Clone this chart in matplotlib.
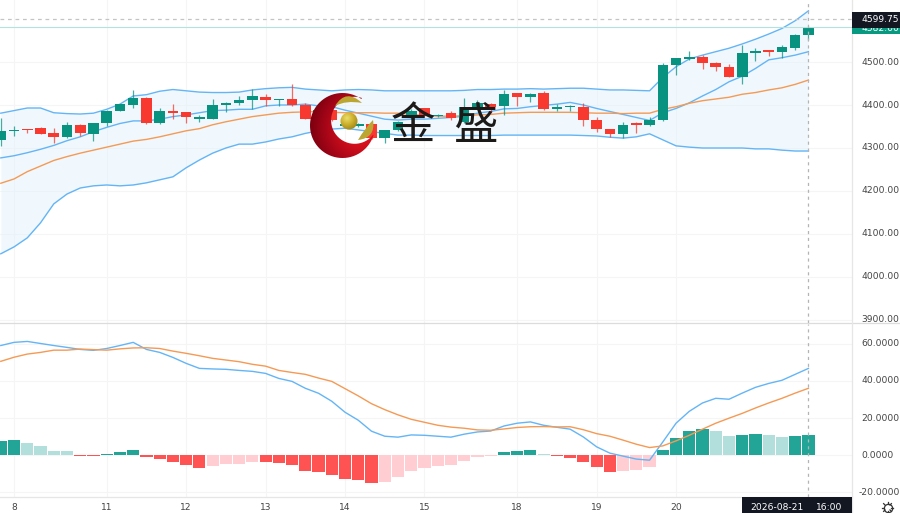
#!/usr/bin/env python3
import numpy as np
import matplotlib
matplotlib.use('Agg')
import matplotlib.pyplot as plt
from matplotlib.colors import LinearSegmentedColormap
from matplotlib.patches import Circle, PathPatch, Rectangle
from matplotlib.path import Path

plt.rcParams['font.family'] = ['DejaVu Sans']

opens = [4319, 4340, 4344, 4347, 4334, 4326, 4354, 4333, 4359, 4387, 4400, 4416, 4357, 4387, 4383, 4368,
         4368, 4401, 4405, 4411, 4419, 4412, 4414, 4400, 4368, 4388, 4352, 4351, 4356, 4323, 4342, 4369,
         4392, 4374, 4381, 4361, 4396, 4402, 4398, 4427, 4419, 4427, 4390, 4395, 4395, 4365, 4344, 4332,
         4357, 4353, 4364, 4493, 4508, 4511, 4498, 4489, 4464, 4520, 4527, 4524, 4533, 4563]
highs = [4369, 4351, 4345, 4348, 4346, 4361, 4356, 4358, 4388, 4402, 4435, 4418, 4392, 4402, 4383, 4377,
         4414, 4408, 4421, 4438, 4426, 4413, 4449, 4405, 4390, 4390, 4357, 4358, 4358, 4342, 4363, 4390,
         4394, 4378, 4387, 4416, 4412, 4404, 4435, 4429, 4427, 4433, 4402, 4400, 4404, 4371, 4345, 4360,
         4360, 4373, 4497, 4509, 4526, 4516, 4500, 4495, 4540, 4532, 4529, 4540, 4565, 4584]
lows = [4305, 4328, 4334, 4332, 4312, 4324, 4329, 4316, 4351, 4385, 4394, 4356, 4355, 4367, 4359, 4361,
        4367, 4384, 4400, 4390, 4398, 4398, 4398, 4367, 4366, 4362, 4350, 4349, 4321, 4311, 4340, 4367,
        4372, 4372, 4364, 4359, 4394, 4381, 4377, 4398, 4408, 4389, 4385, 4385, 4351, 4338, 4326, 4324,
        4334, 4350, 4362, 4470, 4505, 4484, 4478, 4464, 4449, 4502, 4515, 4509, 4529, 4551]
closes = [4340, 4343, 4341, 4333, 4326, 4354, 4335, 4358, 4387, 4402, 4416, 4357, 4387, 4381, 4371, 4371,
          4401, 4405, 4411, 4421, 4411, 4413, 4399, 4368, 4388, 4364, 4355, 4356, 4323, 4342, 4361, 4387,
          4374, 4377, 4369, 4396, 4404, 4395, 4426, 4419, 4425, 4390, 4395, 4397, 4364, 4345, 4333, 4354,
          4353, 4364, 4492, 4509, 4512, 4498, 4489, 4465, 4520, 4526, 4524, 4534, 4563, 4582]

band_upper = [4381, 4387, 4393, 4393, 4382, 4380, 4379, 4381, 4390, 4402, 4421, 4424, 4432, 4436, 4433, 4430,
              4429, 4429, 4430, 4435, 4438, 4440, 4441, 4437, 4435, 4433, 4435, 4436, 4435, 4433, 4433, 4433,
              4433, 4433, 4433, 4434, 4436, 4436, 4437, 4437, 4438, 4437, 4438, 4439, 4439, 4437, 4435, 4435,
              4434, 4433, 4464, 4489, 4507, 4516, 4524, 4532, 4542, 4553, 4565, 4578, 4596, 4619]
band_inner = [4277, 4282, 4289, 4297, 4306, 4317, 4326, 4338, 4348, 4357, 4363, 4363, 4367, 4373, 4377, 4382,
              4387, 4388, 4390, 4390, 4398, 4400, 4400, 4402, 4398, 4396, 4388, 4381, 4374, 4367, 4365, 4367,
              4367, 4369, 4371, 4374, 4381, 4385, 4391, 4392, 4396, 4399, 4402, 4406, 4400, 4392, 4385, 4378,
              4371, 4364, 4382, 4392, 4405, 4421, 4436, 4454, 4467, 4485, 4505, 4510, 4516, 4524]
band_mid = [4218, 4228, 4245, 4258, 4271, 4280, 4288, 4295, 4302, 4309, 4316, 4320, 4326, 4333, 4340, 4345,
            4354, 4361, 4367, 4373, 4377, 4381, 4383, 4384, 4385, 4383, 4382, 4382, 4382, 4381, 4381, 4378,
            4376, 4374, 4374, 4375, 4377, 4378, 4381, 4382, 4383, 4383, 4383, 4383, 4382, 4381, 4381, 4380,
            4381, 4381, 4390, 4396, 4404, 4410, 4414, 4418, 4425, 4429, 4435, 4440, 4448, 4458]
band_lower = [4054, 4070, 4091, 4126, 4170, 4193, 4207, 4212, 4214, 4212, 4214, 4219, 4226, 4233, 4254, 4272,
              4288, 4300, 4309, 4309, 4314, 4321, 4326, 4334, 4340, 4344, 4346, 4342, 4338, 4334, 4330, 4330,
              4329, 4329, 4329, 4329, 4329, 4329, 4330, 4330, 4330, 4330, 4330, 4330, 4329, 4328, 4325, 4323,
              4326, 4333, 4319, 4305, 4302, 4300, 4300, 4300, 4300, 4298, 4298, 4295, 4293, 4293]

dif = [59.0, 60.7, 61.2, 60.1, 59.0, 58.0, 56.9, 56.4, 57.4, 59.0, 60.7, 56.9, 55.3, 52.6, 49.4, 46.7,
       46.4, 46.2, 45.6, 45.1, 44.0, 41.3, 39.7, 36.0, 33.3, 29.0, 23.1, 18.8, 12.9, 10.2, 9.7, 10.9,
       10.7, 10.2, 9.7, 11.3, 12.5, 13.0, 15.7, 17.2, 17.9, 16.1, 15.0, 14.0, 9.8, 4.5, 1.1, -0.5,
       -2.1, -2.7, 7.1, 17.2, 23.6, 28.1, 30.6, 30.1, 33.4, 36.5, 38.6, 40.3, 43.5, 46.7]
dea = [50.5, 52.7, 54.4, 55.3, 56.5, 56.5, 57.1, 56.8, 56.5, 57.2, 57.7, 57.8, 57.4, 56.0, 54.8, 53.5,
       52.1, 51.2, 50.3, 48.9, 47.9, 45.6, 44.5, 43.5, 41.5, 39.7, 35.8, 31.9, 27.7, 24.5, 21.7, 19.3,
       17.7, 16.1, 15.1, 14.5, 13.6, 13.4, 14.1, 14.9, 15.3, 15.4, 15.2, 15.3, 13.7, 11.6, 10.2, 8.1,
       5.9, 4.1, 5.0, 7.7, 10.7, 14.0, 17.2, 19.9, 22.5, 25.4, 28.1, 30.6, 33.4, 36.0]
hist = [7.7, 8.0, 6.8, 4.8, 2.5, 2.1, -0.2, -0.4, 0.9, 1.8, 3.0, -0.9, -2.1, -3.4, -5.4, -6.8,
        -5.7, -5.0, -4.7, -3.8, -3.9, -4.3, -5.5, -8.4, -9.3, -10.7, -12.7, -13.1, -14.8, -14.3, -12.0, -8.4,
        -7.0, -5.9, -5.4, -3.2, -1.1, -0.4, 1.6, 2.3, 3.0, 0.7, -0.2, -1.3, -3.9, -6.6, -9.3, -8.6,
        -8.0, -6.6, 2.7, 9.5, 13.2, 14.1, 12.9, 10.2, 11.1, 11.4, 10.6, 9.7, 10.2, 11.1]

price_ticks = [3900, 4000, 4100, 4200, 4300, 4400, 4500]
macd_ticks = [-20, 0, 20, 40, 60]
date_ticks = [1, 8, 14, 20, 26, 32, 39, 45, 51]
date_labels = ['8', '11', '12', '13', '14', '15', '18', '19', '20']
cross_price = 4599.75
last_price = 4582.00

UP = '#089381'
DOWN = '#f7392f'
BLUE = '#64b5f6'
ORANGE = '#f59a55'
GRID = '#f5f5f5'
TICK = '#444444'
FS = 6.6

W, H = 900, 513
RIGHT = 852
XLIM = (-0.06, 64.29)
PRICE_LIM = (3893.0, 4644.2)
MACD_LIM = (-22.5, 70.85)

fig = plt.figure(figsize=(W / 100, H / 100), dpi=100, facecolor='white')
ax = fig.add_axes([0, 1 - 323 / H, RIGHT / W, 323 / H])
ax2 = fig.add_axes([0, (H - 497) / H, RIGHT / W, (497 - 323.5) / H])
over = fig.add_axes([0, 0, 1, 1], facecolor='none')

xs = np.arange(len(closes))
for a in (ax, ax2):
    a.set_xlim(*XLIM)
    a.axis('off')
    for t in date_ticks:
        a.axvline(t, color=GRID, lw=0.8, zorder=0)
    a.axvline(61, color='#b4b4b4', lw=0.9, ls=(0, (2.5, 3)), zorder=6)
ax.set_ylim(*PRICE_LIM)
ax2.set_ylim(*MACD_LIM)
for p in price_ticks:
    ax.axhline(p, color=GRID, lw=0.8, zorder=0)
for m in macd_ticks:
    ax2.axhline(m, color=GRID, lw=0.8, zorder=0)

# price pane
ax.fill_between(xs, band_lower, band_upper, color='#e3f2fd', alpha=0.5, lw=0, zorder=1)
ax.plot(xs, band_upper, color=BLUE, lw=1.0, zorder=2)
ax.plot(xs, band_inner, color=BLUE, lw=1.0, zorder=2)
ax.plot(xs, band_lower, color=BLUE, lw=1.0, zorder=2)
ax.plot(xs, band_mid, color=ORANGE, lw=1.0, zorder=2)
for i in xs:
    c = UP if closes[i] >= opens[i] else DOWN
    ax.vlines(i, lows[i], highs[i], color=c, lw=0.9, alpha=0.75, zorder=3)
    ax.bar(i, abs(closes[i] - opens[i]), bottom=min(opens[i], closes[i]), width=0.8, color=c, lw=0, zorder=4)
ax.axhline(cross_price, color='#c4c4c4', lw=0.9, ls=(0, (3, 3)), zorder=6)
ax.axhline(last_price, color='#b5e3dc', lw=0.8, zorder=5)

# macd pane
colors = []
for i, h in enumerate(hist):
    rising = i == 0 or h >= hist[i - 1]
    if h >= 0:
        colors.append('#22a597' if rising else '#b2dfdb')
    else:
        colors.append('#ffcdd2' if rising else '#ff5252')
ax2.bar(xs, hist, width=0.92, color=colors, lw=0, zorder=2)
ax2.plot(xs, dif, color=BLUE, lw=1.0, zorder=3)
ax2.plot(xs, dea, color=ORANGE, lw=1.0, zorder=3)

# overlay in pixel coordinates: frame, labels, logo
over.set_xlim(0, W)
over.set_ylim(H, 0)
over.axis('off')
over.plot([0, W], [323, 323], color='#dcdcdc', lw=0.9)
over.plot([0, RIGHT], [497, 497], color='#e6e6e6', lw=0.9)
over.plot([RIGHT, RIGHT], [0, H], color='#e6e6e6', lw=0.9)


def price_y(p):
    return 323 * (PRICE_LIM[1] - p) / (PRICE_LIM[1] - PRICE_LIM[0])


def macd_y(m):
    return 323.5 + (497 - 323.5) * (MACD_LIM[1] - m) / (MACD_LIM[1] - MACD_LIM[0])


for p in price_ticks:
    over.text(861.5, price_y(p), f'{p:.2f}', color=TICK, fontsize=FS, va='center', ha='left')
for m in macd_ticks:
    if m < 0:
        over.text(899.5, macd_y(m), f'{m:.4f}', color=TICK, fontsize=FS, va='center', ha='right')
    else:
        over.text(861.5, macd_y(m), f'{m:.4f}', color=TICK, fontsize=FS, va='center', ha='left')
for t, lab in zip(date_ticks, date_labels):
    over.text(0.8 + 13.24 * t, 507.5, lab, color=TICK, fontsize=FS, va='center', ha='center')

over.add_patch(Rectangle((RIGHT, 22), W - RIGHT, 12, color='#089981', lw=0, zorder=5))
over.text(861.5, 28.5, f'{last_price:.2f}', color='white', fontsize=FS, va='center', zorder=6)
over.add_patch(Rectangle((RIGHT, 11.5), W - RIGHT, 16.5, color='#131722', lw=0, zorder=7))
over.text(861.5, 20, f'{cross_price:.2f}', color='white', fontsize=FS, va='center', zorder=8)
over.add_patch(Rectangle((741.5, 497), RIGHT - 741.5, 16, color='#131722', lw=0, zorder=7))
over.text(750, 507, '2026-08-21', color='white', fontsize=FS, va='center', ha='left', zorder=8)
over.text(816, 507, '16:00', color='white', fontsize=FS, va='center', ha='left', zorder=8)

# settings icon
over.plot([887.5], [507.5], marker='o', ms=6, mfc='white', mec='#333333', mew=0.9, zorder=5)
for deg in range(0, 360, 45):
    r = np.deg2rad(deg)
    over.plot([887.5 + 3.5 * np.cos(r), 887.5 + 5.5 * np.cos(r)],
              [507.5 + 3.5 * np.sin(r), 507.5 + 5.5 * np.sin(r)], color='#333333', lw=0.9, zorder=5)

# logo: red crescent
th_out = np.deg2rad(np.linspace(17.3, 305.3, 120))
th_in = np.deg2rad(np.linspace(288.4, 38.6, 90))
crescent = np.vstack([
    np.c_[342.5 + 32.5 * np.cos(th_out), 125.5 + 32.5 * np.sin(th_out)],
    np.c_[354.6 + 23.5 * np.cos(th_in), 120.3 + 23.5 * np.sin(th_in)],
])
red_cmap = LinearSegmentedColormap.from_list('logo_red', ['#e4141e', '#d40f1c', '#a80618', '#78000f'])
gx, gy = np.meshgrid(np.linspace(308, 376, 80), np.linspace(92, 160, 80))
grad = np.clip(np.hypot(gx - 362, gy - 128) / 54, 0, 1)
im = over.imshow(grad, extent=(308, 376, 160, 92), cmap=red_cmap, aspect='auto', zorder=9, vmin=0, vmax=1)
im.set_clip_path(PathPatch(Path(np.vstack([crescent, crescent[0]])), transform=over.transData))

# logo: gold leaves and ball
top_leaf = Path([(335, 106), (346, 88), (362, 103), (346, 100), (335, 106)],
                [Path.MOVETO, Path.CURVE3, Path.CURVE3, Path.CURVE3, Path.CURVE3])
low_leaf = Path([(358, 140), (376, 138), (373, 120), (365, 128), (358, 140)],
                [Path.MOVETO, Path.CURVE3, Path.CURVE3, Path.CURVE3, Path.CURVE3])
over.add_patch(PathPatch(top_leaf, fc='#bba632', ec='none', zorder=10))
over.add_patch(PathPatch(low_leaf, fc='#bba632', ec='none', zorder=10))
gold_cmap = LinearSegmentedColormap.from_list('logo_gold', ['#eadf6a', '#cdb02e', '#9c8418'])
bx, by = np.meshgrid(np.linspace(340, 358, 40), np.linspace(112, 130, 40))
ball = np.clip(np.hypot(bx - 347, by - 118) / 13, 0, 1)
im2 = over.imshow(ball, extent=(340, 358, 130, 112), cmap=gold_cmap, aspect='auto', zorder=11, vmin=0, vmax=1)
im2.set_clip_path(Circle((349, 121), 8.5, transform=over.transData))

# logo: name
for x, ch in [(412.5, '金'), (475, '盛')]:
    over.text(x, 126, ch, color='#1c1a18', fontsize=32, fontweight='medium', ha='center', va='center',
              family=['Noto Sans CJK SC', 'DejaVu Sans'], zorder=12)

over.set_xlim(0, W)
over.set_ylim(H, 0)
fig.savefig('out.png', dpi=100)
